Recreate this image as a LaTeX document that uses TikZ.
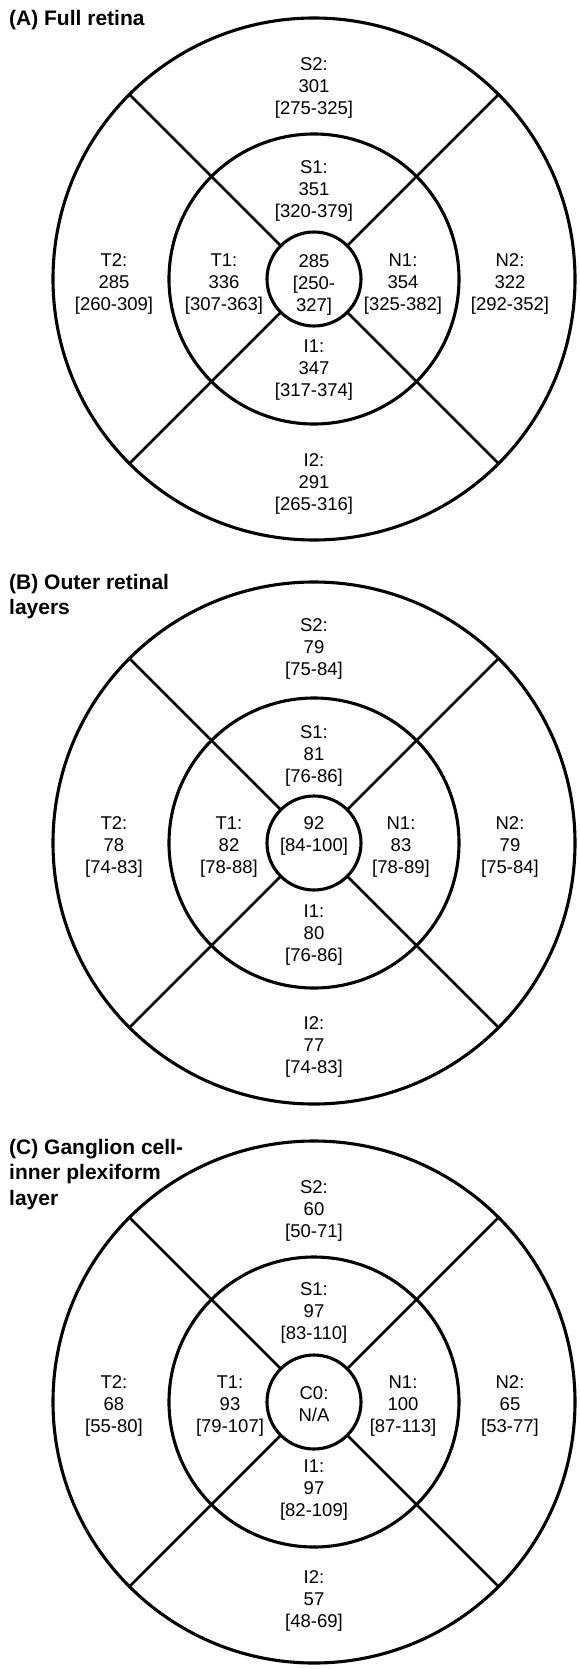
\documentclass[tikz,border=0pt]{standalone}
\usepackage{fontspec}
\setmainfont{Liberation Sans}
\tikzset{
  ring/.style={circle, draw, line width=3.1pt, inner sep=0pt, outer sep=0pt},
  spoke/.style={line width=2.7pt},
  val/.style={align=center, font=\fontsize{18.5}{22}\selectfont, inner sep=0pt},
  ttl/.style={align=left, anchor=north west, font=\fontsize{21}{25.5}\selectfont\bfseries, inner sep=0pt}
}
\newcommand{\retinarings}[3]{%
  \node[ring, minimum size=522pt] (#1-out) at (#2,#3) {};
  \node[ring, minimum size=290pt] (#1-mid) at (#2,#3) {};
  \node[ring, minimum size=94pt] (#1-cen) at (#2,#3) {};
  \foreach \ang in {45,135,225,315} \draw[spoke] (#1-cen.\ang) -- (#1-out.\ang);
}
\begin{document}
\begin{tikzpicture}[x=1pt,y=-1pt]
\useasboundingbox (0,0) rectangle (579,1669);

% ---------------- Panel A ----------------
\node[ttl] (A-title) at (9,10) {(A) Full retina};
\retinarings{A}{314}{279}
\node[val] (A-S2) at (314,88) {S2:\\301\\{}[275-325]};
\node[val] (A-S1) at (314,191) {S1:\\351\\{}[320-379]};
\node[val] (A-C0) at (314,285) {285\\{}[250-\\327]};
\node[val] (A-T1) at (224,284) {T1:\\336\\{}[307-363]};
\node[val] (A-N1) at (403,284) {N1:\\354\\{}[325-382]};
\node[val] (A-T2) at (114,284) {T2:\\285\\{}[260-309]};
\node[val] (A-N2) at (510,284) {N2:\\322\\{}[292-352]};
\node[val] (A-I1) at (314,370) {I1:\\347\\{}[317-374]};
\node[val] (A-I2) at (314,484) {I2:\\291\\{}[265-316]};

% ---------------- Panel B ----------------
\node[ttl] (B-title) at (9,574) {(B) Outer retinal\\layers};
\retinarings{B}{314}{843}
\node[val] (B-S2) at (314,649) {S2:\\79\\{}[75-84]};
\node[val] (B-S1) at (314,756) {S1:\\81\\{}[76-86]};
\node[val] (B-C0) at (314,836) {92\\{}[84-100]};
\node[val] (B-T1) at (229,847) {T1:\\82\\{}[78-88]};
\node[val] (B-N1) at (401,847) {N1:\\83\\{}[78-89]};
\node[val] (B-T2) at (114,847) {T2:\\78\\{}[74-83]};
\node[val] (B-N2) at (510,847) {N2:\\79\\{}[75-84]};
\node[val] (B-I1) at (314,935) {I1:\\80\\{}[76-86]};
\node[val] (B-I2) at (314,1047) {I2:\\77\\{}[74-83]};

% ---------------- Panel C ----------------
\node[ttl] (C-title) at (9,1139) {(C) Ganglion cell-\\inner plexiform\\layer};
\retinarings{C}{314}{1402}
\node[val] (C-S2) at (314,1211) {S2:\\60\\{}[50-71]};
\node[val] (C-S1) at (314,1313) {S1:\\97\\{}[83-110]};
\node[val] (C-C0) at (314,1404) {C0:\\N/A};
\node[val] (C-T1) at (230,1406) {T1:\\93\\{}[79-107]};
\node[val] (C-N1) at (403,1406) {N1:\\100\\{}[87-113]};
\node[val] (C-T2) at (114,1406) {T2:\\68\\{}[55-80]};
\node[val] (C-N2) at (510,1406) {N2:\\65\\{}[53-77]};
\node[val] (C-I1) at (314,1490) {I1:\\97\\{}[82-109]};
\node[val] (C-I2) at (314,1601) {I2:\\57\\{}[48-69]};
\end{tikzpicture}
\end{document}
